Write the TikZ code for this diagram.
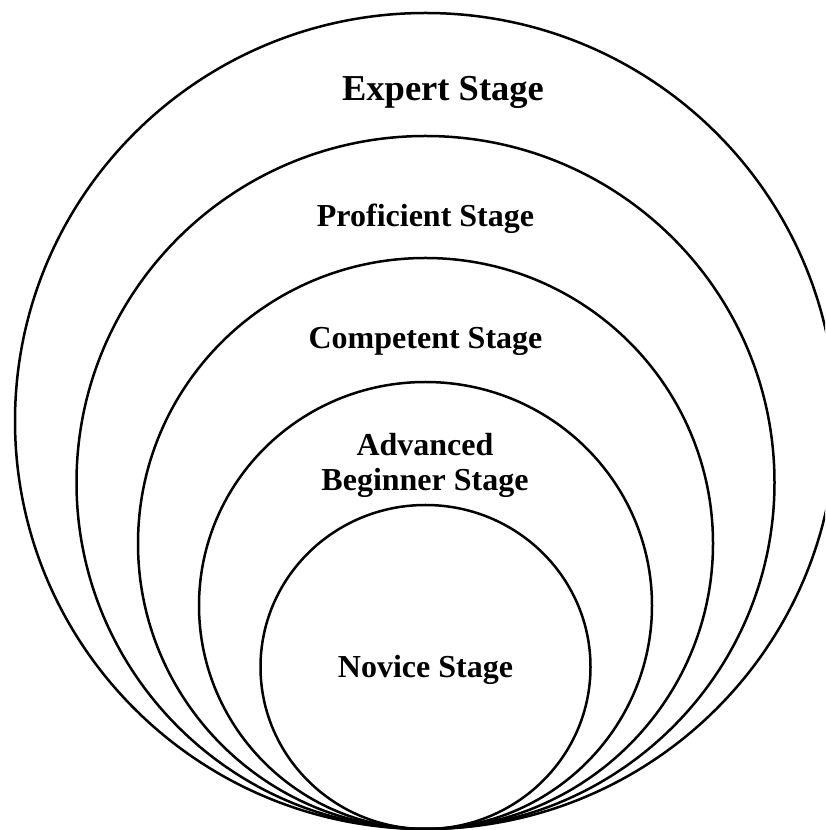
\documentclass[tikz,border=0pt]{standalone}
\usepackage{fontspec}
\setmainfont{Liberation Serif}
\begin{document}
\begin{tikzpicture}[x=1pt,y=1pt,
  ring/.style={draw=black,line width=2.5pt},
  lbl/.style={font=\fontsize{32}{35}\selectfont\bfseries,align=center,inner sep=0pt}]
\useasboundingbox (0,0) rectangle (825,830);
\begin{scope}
\clip (0,0) rectangle (825,830);
\draw[ring] (425.5,409) ellipse [x radius=410.5, y radius=408];
\draw[ring] (425.5,347.5) ellipse [x radius=349, y radius=346.5];
\draw[ring] (425.5,286.5) ellipse [x radius=287.5, y radius=285.5];
\draw[ring] (425.5,224.5) ellipse [x radius=226.5, y radius=223.5];
\draw[ring] (425.5,163) ellipse [x radius=165, y radius=162];
\end{scope}
\node[lbl,font=\fontsize{36.5}{40}\selectfont\bfseries] (expert) at (443,738) {Expert Stage};
\node[lbl] (proficient) at (425.5,611) {Proficient Stage};
\node[lbl] (competent) at (425.5,489) {Competent Stage};
\node[lbl] (advanced) at (425,365) {Advanced\\[0pt]Beginner Stage};
\node[lbl] (novice) at (425.5,160) {Novice Stage};
\end{tikzpicture}
\end{document}
